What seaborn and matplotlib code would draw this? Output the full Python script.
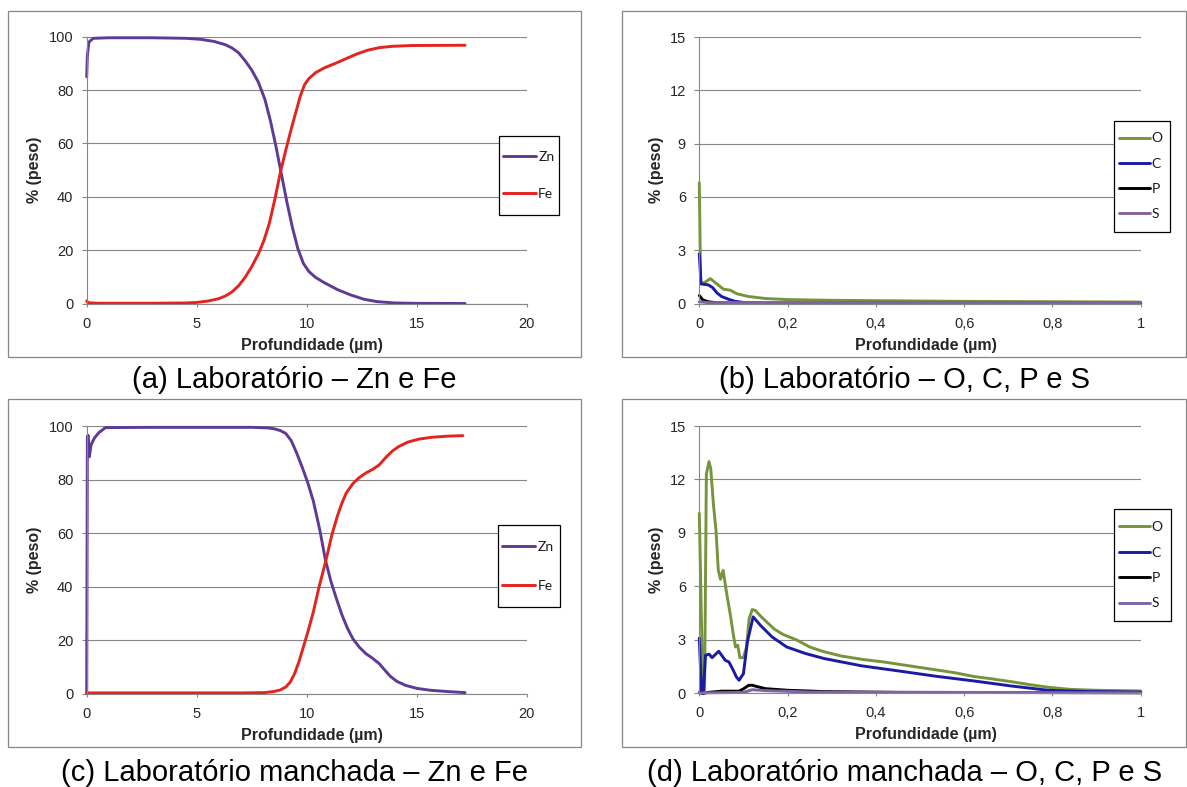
import seaborn as sns
import matplotlib.pyplot as plt
from matplotlib.patches import Rectangle

# (a) Laboratório - Zn e Fe
a_zn_x = [0, 0.03, 0.1, 0.3, 1, 3, 4.5, 5.2, 5.8, 6.3, 6.6, 6.9, 7.2, 7.5, 7.8, 8.1, 8.35, 8.6, 8.85, 9.1,
          9.35, 9.6, 9.85, 10.1, 10.4, 10.8, 11.4, 12.0, 12.6, 13.2, 14.0, 15.0, 17.2]
a_zn_y = [85, 93, 98, 99.4, 99.6, 99.6, 99.4, 99.0, 98.2, 97, 95.8, 94, 91, 87.5, 83, 76.5, 68.5, 59, 48.5, 38,
          28.5, 20.5, 15, 12, 9.8, 7.8, 5.2, 3.2, 1.6, 0.7, 0.2, 0.05, 0]
a_fe_x = [0, 0.05, 0.5, 3, 4.5, 5.0, 5.5, 6.0, 6.3, 6.6, 6.9, 7.2, 7.5, 7.8, 8.05, 8.3, 8.55, 8.8, 9.05,
          9.3, 9.5, 9.7, 9.9, 10.1, 10.4, 10.8, 11.3, 11.8, 12.3, 12.8, 13.3, 13.9, 14.8, 17.2]
a_fe_y = [1.0, 0.3, 0.1, 0.1, 0.2, 0.4, 0.9, 1.8, 2.8, 4.3, 6.6, 9.8, 13.8, 18.5, 23.5, 30, 39, 49, 57.5,
          65.5, 71.5, 77.5, 82, 84.3, 86.5, 88.3, 90, 91.8, 93.6, 95, 95.9, 96.4, 96.7, 96.8]

# (b) Laboratório - O, C, P e S
b_o_x = [0, 0.003, 0.01, 0.025, 0.04, 0.055, 0.07, 0.085, 0.11, 0.15, 0.2, 0.3, 0.45, 0.6, 0.8, 1.0]
b_o_y = [6.8, 1.2, 1.15, 1.4, 1.1, 0.8, 0.75, 0.55, 0.4, 0.28, 0.22, 0.18, 0.15, 0.12, 0.1, 0.08]
b_c_x = [0, 0.004, 0.02, 0.03, 0.04, 0.05, 0.065, 0.08, 0.1, 0.15, 0.3, 1.0]
b_c_y = [2.8, 1.1, 1.05, 0.9, 0.6, 0.4, 0.25, 0.13, 0.06, 0.02, 0.01, 0.01]
b_p_x = [0, 0.008, 0.02, 0.04, 0.08, 1.0]
b_p_y = [0.45, 0.2, 0.1, 0.04, 0.02, 0.01]
b_s_x = [0, 0.02, 1.0]
b_s_y = [0.1, 0.05, 0.05]

# (c) Laboratório manchada - Zn e Fe
c_zn_x = [0, 0.03, 0.07, 0.12, 0.2, 0.35, 0.55, 0.85, 3, 7.5, 8.2, 8.5, 8.8, 9.05, 9.3, 9.55, 9.8, 10.05,
          10.3, 10.6, 10.85, 11.1, 11.35, 11.6, 11.85, 12.1, 12.4, 12.7, 13.0, 13.3, 13.55, 13.8, 14.1,
          14.5, 15.0, 15.6, 16.4, 17.2]
c_zn_y = [0, 96, 96.5, 88.5, 93, 95.5, 97.5, 99.4, 99.5, 99.5, 99.3, 99.0, 98.3, 97.2, 94.5, 89.8, 84.5, 78.8,
          72, 61, 50, 42, 35.5, 29.5, 24.5, 20.5, 17.3, 14.9, 13.2, 11.2, 8.8, 6.5, 4.6,
          3.1, 2.0, 1.3, 0.8, 0.4]
c_fe_x = [0, 7, 8.07, 8.5, 8.8, 9.05, 9.25, 9.45, 9.65, 9.85, 10.05, 10.3, 10.55, 10.85, 11.15, 11.4, 11.6,
          11.8, 12.1, 12.4, 12.7, 13.0, 13.3, 13.6, 13.9, 14.2, 14.6, 15.1, 15.7, 16.4, 17.1]
c_fe_y = [0.3, 0.3, 0.4, 0.8, 1.4, 2.5, 4.3, 7.5, 12, 17.5, 23, 30.5, 39.5, 49, 59.5, 66.5, 71.2,
          75, 78.5, 80.8, 82.5, 83.8, 85.5, 88.3, 90.7, 92.4, 94, 95.1, 95.8, 96.2, 96.4]

# (d) Laboratório manchada - O, C, P e S
d_o_x = [0, 0.008, 0.012, 0.016, 0.022, 0.026, 0.032, 0.038, 0.043, 0.048, 0.054, 0.062, 0.071, 0.077,
         0.082, 0.087, 0.092, 0.1, 0.107, 0.113, 0.12, 0.127, 0.14, 0.155, 0.17, 0.19, 0.22, 0.25, 0.28,
         0.32, 0.37, 0.42, 0.46, 0.5, 0.54, 0.58, 0.62, 0.66, 0.71, 0.75, 0.79, 0.84, 0.9, 1.0]
d_o_y = [10.1, 0.2, 0.2, 12.3, 13.0, 12.6, 10.6, 9.1, 6.9, 6.4, 6.9, 5.6, 4.3, 3.3,
         2.6, 2.7, 2.0, 2.0, 2.6, 4.2, 4.7, 4.65, 4.3, 3.95, 3.6, 3.3, 3.0, 2.6, 2.35,
         2.1, 1.9, 1.75, 1.6, 1.45, 1.3, 1.15, 0.95, 0.82, 0.64, 0.48, 0.34, 0.22, 0.17, 0.13]
d_c_x = [0, 0.005, 0.009, 0.014, 0.022, 0.029, 0.044, 0.059, 0.067, 0.075, 0.084, 0.09, 0.1, 0.109,
         0.122, 0.139, 0.165, 0.198, 0.241, 0.283, 0.368, 0.453, 0.538, 0.623, 0.707, 0.79, 0.877, 1.0]
d_c_y = [3.1, 0.0, 0.0, 2.13, 2.2, 2.0, 2.36, 1.85, 1.76, 1.39, 0.92, 0.73, 1.1, 2.9,
         4.29, 3.8, 3.16, 2.6, 2.23, 1.95, 1.54, 1.25, 0.95, 0.69, 0.41, 0.17, 0.1, 0.07]
d_p_x = [0, 0.01, 0.02, 0.05, 0.09, 0.1, 0.112, 0.12, 0.135, 0.15, 0.2, 0.28, 0.45, 1.0]
d_p_y = [0.05, 0.0, 0.05, 0.12, 0.12, 0.25, 0.45, 0.45, 0.35, 0.26, 0.17, 0.1, 0.05, 0.03]
d_s_x = [0, 0.1, 0.12, 0.15, 0.25, 1.0]
d_s_y = [0.02, 0.05, 0.2, 0.15, 0.07, 0.03]

znfe_names = ['Zn', 'Fe']
ocps_names = ['O', 'C', 'P', 'S']
znfe_colors = ['#5E3A96', '#E5231E']
ocps_colors = ['#77933C', '#1A1AA6', '#000000', '#8064A2']

captions = ['(a) Laboratório – Zn e Fe', '(b) Laboratório – O, C, P e S',
            '(c) Laboratório manchada – Zn e Fe', '(d) Laboratório manchada – O, C, P e S']

sns.set_style("white")
plt.rcParams['font.family'] = ['Liberation Sans', 'DejaVu Sans']

W, H = 1187, 787
GREY = '#868686'
LEG_FS = 10
fig = plt.figure(figsize=(W / 100, H / 100), dpi=100)


def px_axes(left, top, right, bottom):
    return fig.add_axes([left / W, 1 - bottom / H, (right - left) / W, (bottom - top) / H])


def px_rect(x0, y0, x1, y1, **kw):
    return Rectangle((x0 / W, 1 - y1 / H), (x1 - x0) / W, (y1 - y0) / H,
                     transform=fig.transFigure, **kw)


def draw_panel(ax, series, colors, xmax, xticks, xlabels, ymax, yticks, ylab_x):
    for (x, y), c in zip(series, colors):
        sns.lineplot(x=x, y=y, ax=ax, color=c, linewidth=2.1, errorbar=None)
    for line in ax.lines:
        line.set_clip_on(False)
        line.set_solid_joinstyle('round')
    ax.set_xlim(0, xmax)
    ax.set_ylim(0, ymax)
    ax.set_xticks(xticks)
    ax.set_xticklabels(xlabels)
    ax.set_yticks(yticks)
    ax.grid(axis='y', color=GREY, lw=0.8)
    ax.grid(axis='x', visible=False)
    ax.set_axisbelow(True)
    for s in ['top', 'right']:
        ax.spines[s].set_visible(False)
    for s in ['left', 'bottom']:
        ax.spines[s].set_color(GREY)
        ax.spines[s].set_linewidth(0.8)
    ax.tick_params(axis='y', direction='out', length=3.6, width=0.8, color=GREY, pad=6,
                   labelsize=10.5, labelcolor='#262626', left=True)
    ax.tick_params(axis='x', direction='out', length=2.5, width=0.8, color=GREY, pad=7,
                   labelsize=10.5, labelcolor='#262626', bottom=True)
    ax.set_xlabel('Profundidade (µm)', fontsize=11.5, fontweight='bold')
    ax.set_ylabel('% (peso)', fontsize=11.5, fontweight='bold')
    ax.xaxis.set_label_coords(0.513, -0.156)
    ax.yaxis.set_label_coords(ylab_x, 0.5)
    ax.xaxis.label.set_va('center')
    ax.yaxis.label.set_va('center')


def draw_legend(ax, names, box, handle_px, pitch_px):
    x0, y0, x1, y1 = box
    fs_px = LEG_FS * 100 / 72
    ax.add_patch(px_rect(x0, y0, x1, y1, facecolor='white', edgecolor='black', lw=0.9,
                         clip_on=False, zorder=4))
    ax.legend(ax.lines, names, loc='center left',
              bbox_to_anchor=((x0 + 4.5) / W, 1 - ((y0 + y1) / 2) / H), bbox_transform=fig.transFigure,
              frameon=False, borderpad=0, borderaxespad=0, handlelength=handle_px / fs_px,
              handletextpad=2 / fs_px, labelspacing=(pitch_px - 1.05 * fs_px) / fs_px,
              prop={'family': 'Lato', 'size': LEG_FS}, labelcolor='#1a1a1a')


ax_a = px_axes(86.7, 36.7, 526.7, 303.5)
ax_b = px_axes(699.3, 37.0, 1140.7, 303.5)
ax_c = px_axes(86.7, 426.0, 526.7, 693.7)
ax_d = px_axes(699.3, 426.0, 1140.7, 693.3)

znfe_ticks = [0, 5, 10, 15, 20]
znfe_labels = ['0', '5', '10', '15', '20']
ocps_ticks = [0, 0.2, 0.4, 0.6, 0.8, 1]
ocps_labels = ['0', '0,2', '0,4', '0,6', '0,8', '1']

draw_panel(ax_a, [(a_zn_x, a_zn_y), (a_fe_x, a_fe_y)], znfe_colors,
           20, znfe_ticks, znfe_labels, 100, range(0, 101, 20), -0.119)
draw_panel(ax_c, [(c_zn_x, c_zn_y), (c_fe_x, c_fe_y)], znfe_colors,
           20, znfe_ticks, znfe_labels, 100, range(0, 101, 20), -0.119)
draw_panel(ax_b, [(b_o_x, b_o_y), (b_c_x, b_c_y), (b_p_x, b_p_y), (b_s_x, b_s_y)], ocps_colors,
           1, ocps_ticks, ocps_labels, 15, range(0, 16, 3), -0.098)
draw_panel(ax_d, [(d_o_x, d_o_y), (d_c_x, d_c_y), (d_p_x, d_p_y), (d_s_x, d_s_y)], ocps_colors,
           1, ocps_ticks, ocps_labels, 15, range(0, 16, 3), -0.098)

draw_legend(ax_a, znfe_names, (498.7, 136, 559.3, 215), 33, 40)
draw_legend(ax_c, znfe_names, (498.0, 525, 559.5, 607.3), 33, 41.6)
draw_legend(ax_b, ocps_names, (1114, 120.7, 1170, 231.7), 31, 27.8)
draw_legend(ax_d, ocps_names, (1114, 509.3, 1171, 621.3), 31, 28)

# panel frames and captions
boxes = [(8.3, 10.7, 581, 356.7), (622.3, 10.7, 1186, 356.7),
         (8.3, 399, 581, 747.3), (622.3, 399, 1186, 747.3)]
caption_y = [380, 380, 773, 773]
for (x0, y0, x1, y1), cap, cy in zip(boxes, captions, caption_y):
    fig.add_artist(px_rect(x0, y0, x1, y1, fill=False, edgecolor=GREY, lw=0.9))
    fig.text((x0 + x1) / 2 / W, 1 - cy / H, cap, ha='center', va='center', fontsize=21, color='black')

fig.savefig('out.png', dpi=100, facecolor='white')
